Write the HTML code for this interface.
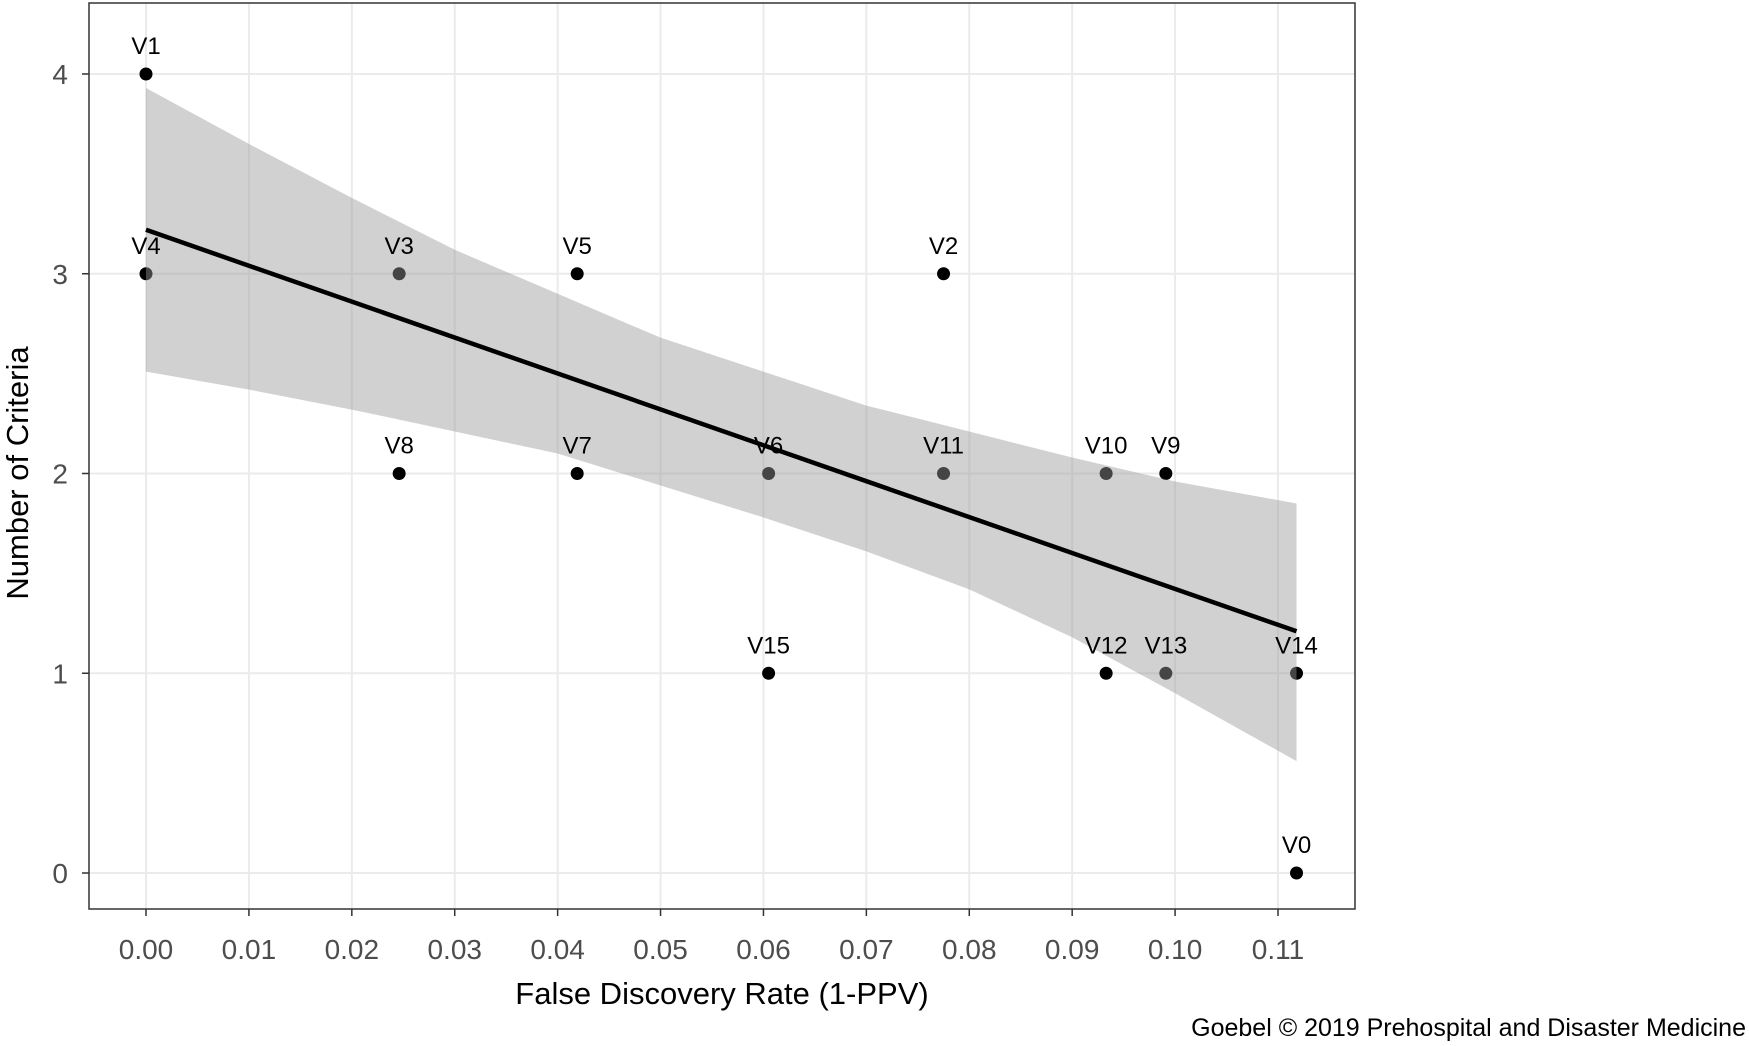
<!DOCTYPE html>
<html><head><meta charset="utf-8"><style>
body{margin:0;background:#fff}
svg{display:block;font-family:"Liberation Sans",sans-serif}
</style></head><body>
<svg id="c" width="1749" height="1046"></svg>
<script>
const labels=["V1","V4","V3","V5","V2","V8","V7","V6","V11","V10","V9","V15","V12","V13","V14","V0"];
const fdr=[0,0,0.0246,0.0419,0.0775,0.0246,0.0419,0.0605,0.0775,0.0933,0.0991,0.0605,0.0933,0.0991,0.1118,0.1118];
const crit=[4,3,3,3,3,2,2,2,2,2,2,1,1,1,1,0];
const xTicks=["0.00","0.01","0.02","0.03","0.04","0.05","0.06","0.07","0.08","0.09","0.10","0.11"];
const yTicks=[0,1,2,3,4];
const fitX=[0,0.1118];
const fitY=[3.22,1.21];
const bandX=[0,0.01,0.02,0.03,0.04,0.05,0.06,0.07,0.08,0.09,0.10,0.1118];
const bandUpper=[3.93,3.65,3.38,3.12,2.90,2.68,2.51,2.34,2.21,2.08,1.96,1.85];
const bandLower=[2.51,2.42,2.32,2.21,2.10,1.94,1.78,1.61,1.42,1.18,0.90,0.56];

const NS="http://www.w3.org/2000/svg",svg=document.getElementById('c');
const L=89,R=1355,T=3,B=909;
const X=v=>146+v*(1278-146)/0.11;
const Y=v=>873-v*199.75;
function el(t,a,p){const e=document.createElementNS(NS,t);for(const k in a)e.setAttribute(k,a[k]);(p||svg).appendChild(e);return e;}
const bg=el('rect',{x:L,y:T,width:R-L,height:B-T,fill:'#fff'});


for(let i=0;i<xTicks.length;i++){const g=el('line',{x1:X(i*0.01),x2:X(i*0.01),y1:T,y2:B,stroke:'#ebebeb','stroke-width':2});

}
yTicks.forEach(v=>{const g=el('line',{x1:L,x2:R,y1:Y(v),y2:Y(v),stroke:'#ebebeb','stroke-width':2});

});
fdr.forEach((x,i)=>{const p=el('circle',{cx:X(x),cy:Y(crit[i]),r:6.5,fill:'#000'});

});
// smooth band via cardinal-ish curve through points
function path(xs,ys){let d='';for(let i=0;i<xs.length;i++){d+=(i?'L':'M')+X(xs[i]).toFixed(1)+','+Y(ys[i]).toFixed(1);}return d;}
const up=bandX.map((x,i)=>X(x)+','+Y(bandUpper[i]));
const lo=bandX.map((x,i)=>X(x)+','+Y(bandLower[i])).reverse();
const band=el('polygon',{points:up.concat(lo).join(' '),fill:'rgba(153,153,153,0.45)'});


const ln=el('line',{x1:X(fitX[0]),y1:Y(fitY[0]),x2:X(fitX[1]),y2:Y(fitY[1]),stroke:'#000','stroke-width':4.5});


fdr.forEach((x,i)=>{const tx=el('text',{x:X(x),y:Y(crit[i])-20,'text-anchor':'middle','font-size':24,fill:'#000'});tx.textContent=labels[i];

});
const bd=el('rect',{x:L,y:T,width:R-L,height:B-T,fill:'none',stroke:'#333','stroke-width':1.5});


xTicks.forEach((lab,i)=>{const x=X(i*0.01);el('line',{x1:x,x2:x,y1:B,y2:B+7,stroke:'#333','stroke-width':1.5});
const tx=el('text',{x:x,y:959,'text-anchor':'middle','font-size':28,fill:'#4d4d4d'});tx.textContent=lab;

});
yTicks.forEach(v=>{el('line',{x1:L-7,x2:L,y1:Y(v),y2:Y(v),stroke:'#333','stroke-width':1.5});
const tx=el('text',{x:L-21,y:Y(v)+10,'text-anchor':'end','font-size':28,fill:'#4d4d4d'});tx.textContent=v;

});
const xt=el('text',{x:722,y:1004,'text-anchor':'middle','font-size':31,fill:'#000'});xt.textContent='False Discovery Rate (1-PPV)';


const yt=el('text',{x:0,y:0,'text-anchor':'middle','font-size':31,fill:'#000',transform:'translate(28,473) rotate(-90)'});yt.textContent='Number of Criteria';


const cr=el('text',{x:1746,y:1036,'text-anchor':'end','font-size':25,fill:'#000'});cr.textContent='Goebel © 2019 Prehospital and Disaster Medicine';


</script>
</body></html>
